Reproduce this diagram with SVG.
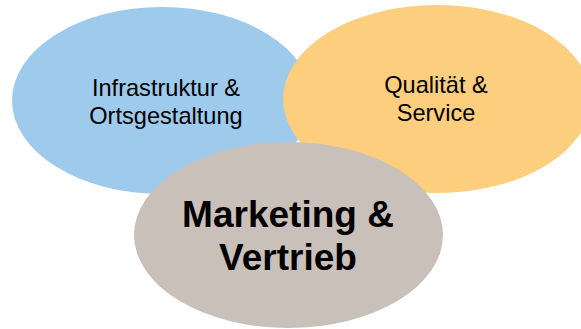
<svg xmlns="http://www.w3.org/2000/svg" width="581" height="329" viewBox="0 0 581 329">
<style>
.t{font-family:"Liberation Sans",Arial,sans-serif;fill:#000;text-anchor:middle}
.s{font-size:23.6px}
.b{font-size:37px;font-weight:bold}
</style>
<rect width="581" height="329" fill="#fff"/>
<g id="infrastruktur">
<ellipse cx="162" cy="100.5" rx="150" ry="93.5" fill="#9ECAEC"/>
<text class="t s" x="166" y="96">Infrastruktur &amp;</text>
<text class="t s" x="166" y="124">Ortsgestaltung</text>
</g>
<g id="qualitaet">
<ellipse cx="437" cy="99" rx="154" ry="94" fill="#FCCE7D"/>
<text class="t s" x="436" y="93">Qualität &amp;</text>
<text class="t s" x="436" y="121">Service</text>
</g>
<g id="marketing">
<ellipse cx="288.5" cy="235" rx="154.5" ry="93" fill="#C9C1B9"/>
<text class="t b" x="288" y="227">Marketing &amp;</text>
<text class="t b" x="288" y="270">Vertrieb</text>
</g>
<g id="connectors"/>
</svg>
